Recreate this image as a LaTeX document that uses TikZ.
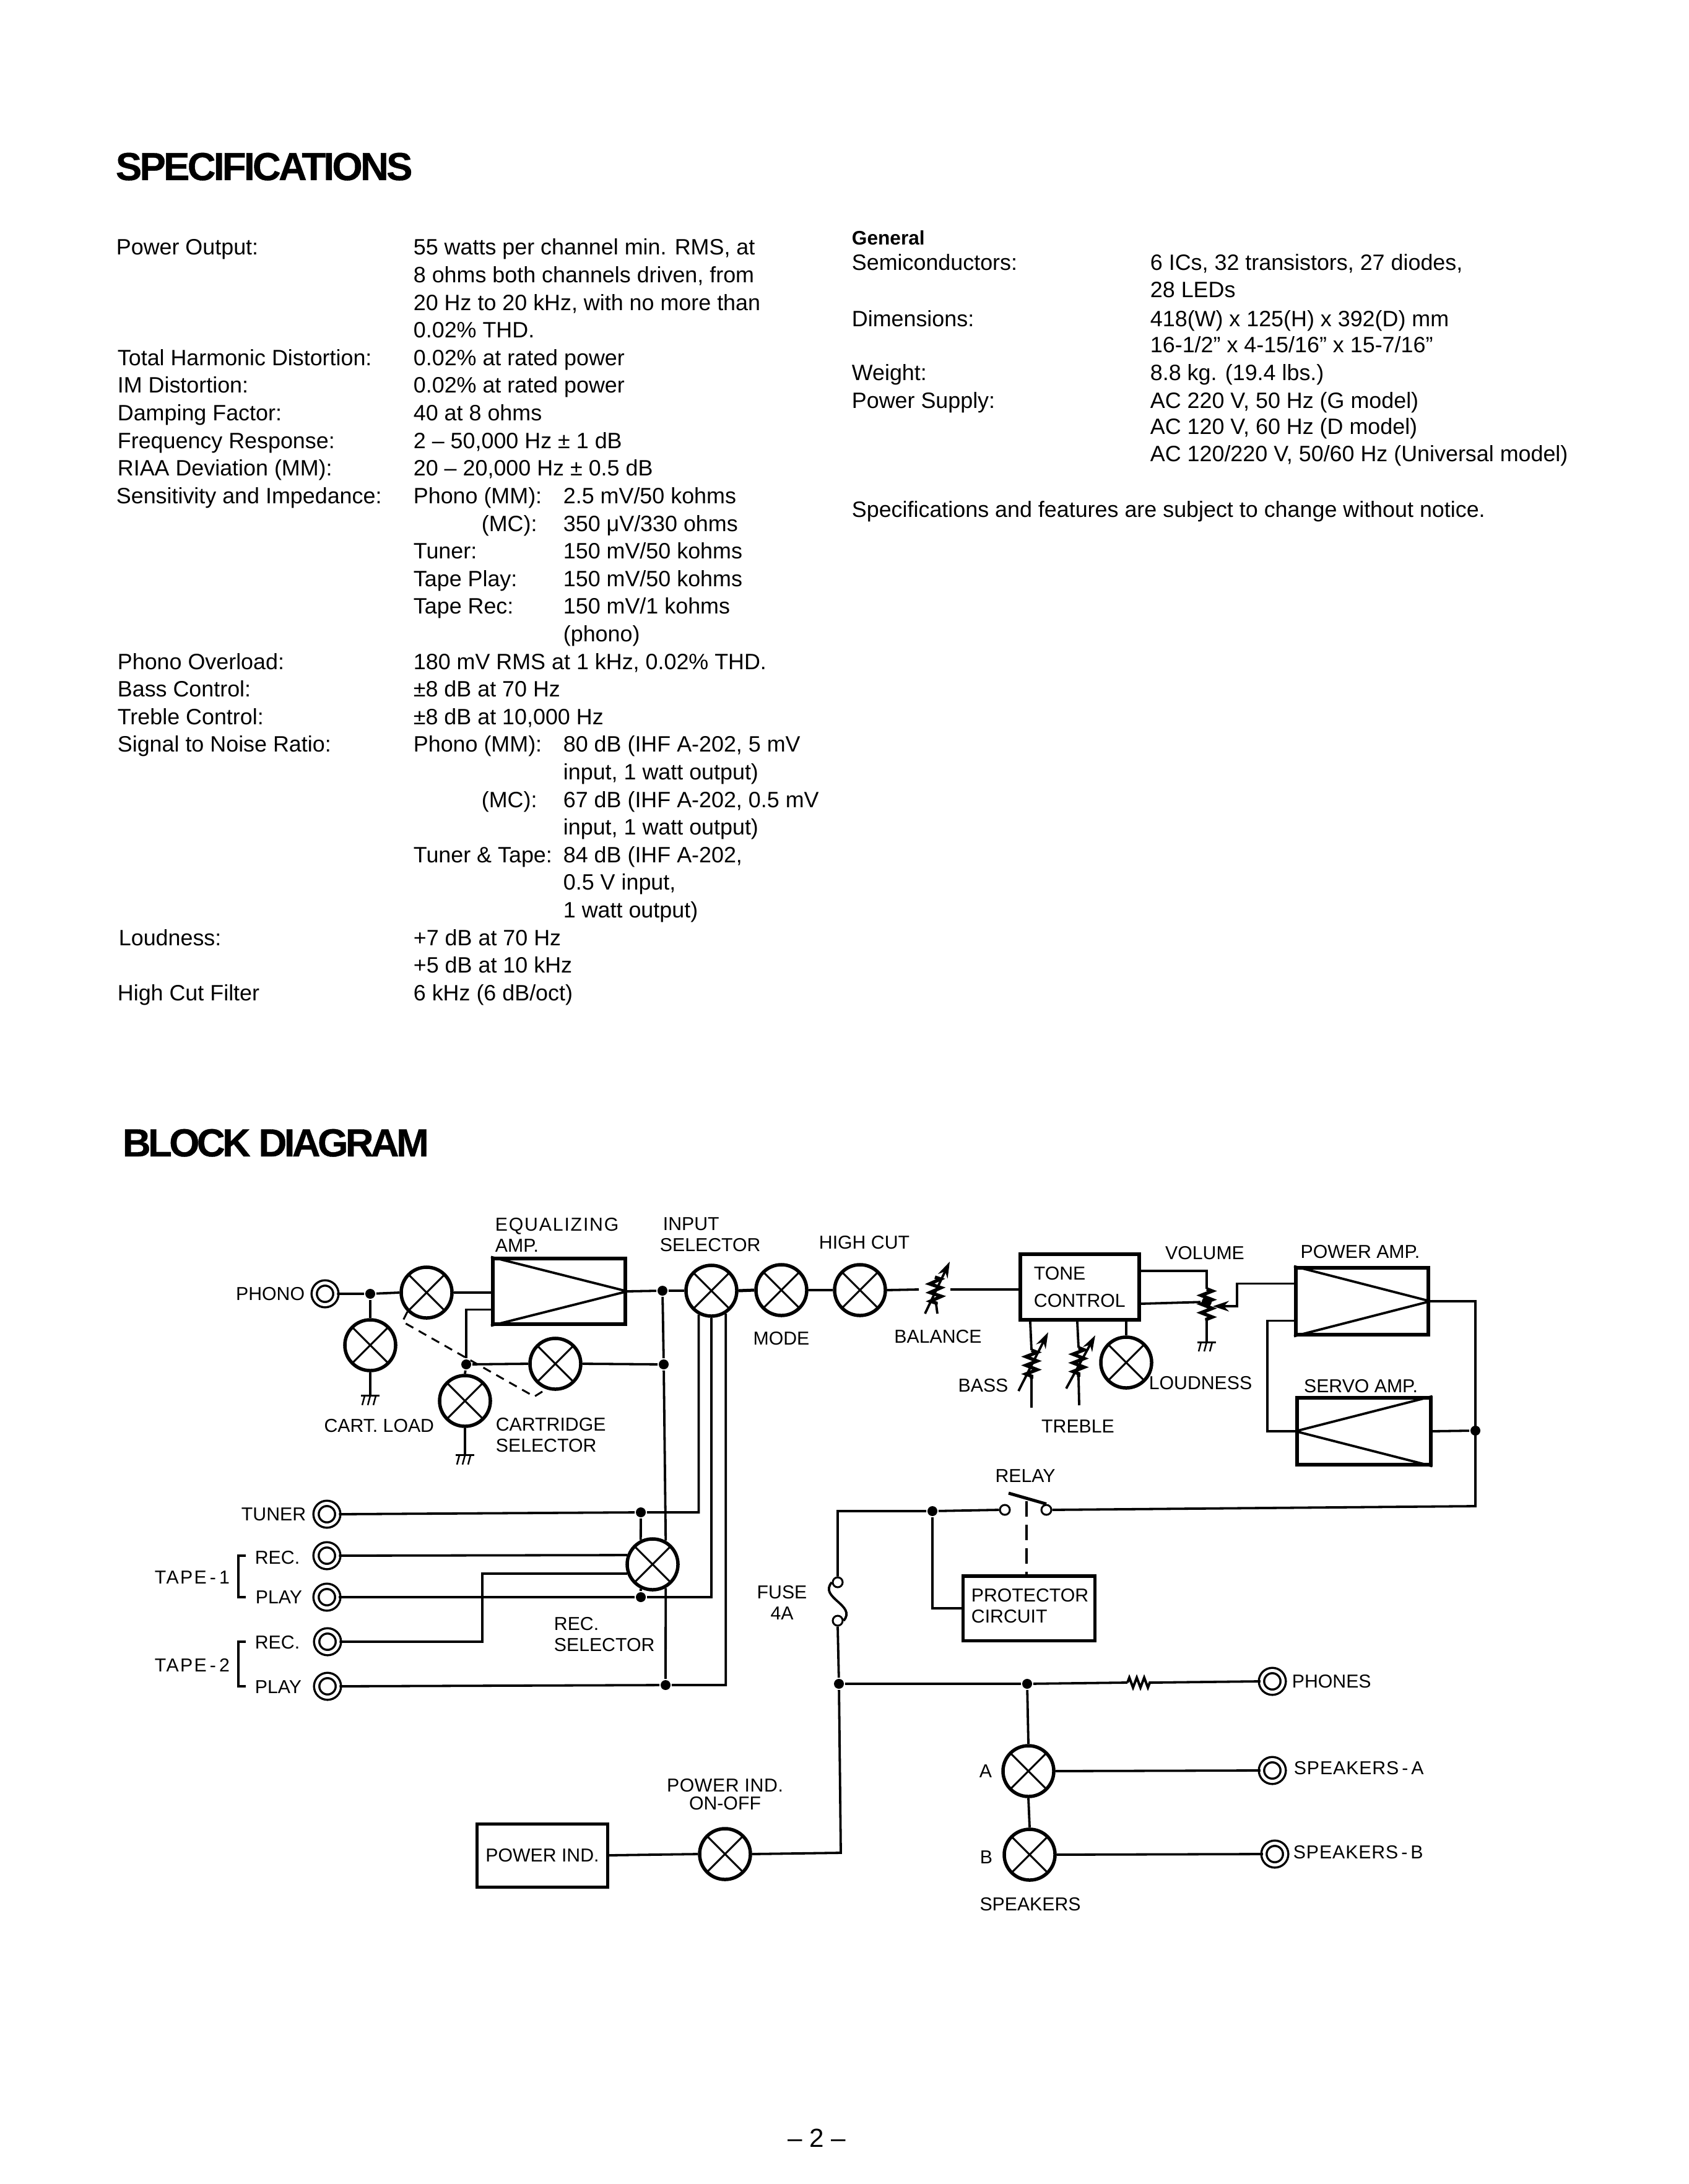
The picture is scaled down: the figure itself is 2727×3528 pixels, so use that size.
\documentclass[tikz,border=0pt]{standalone}
\usepackage{fontspec}
\setmainfont{Liberation Sans}
\usetikzlibrary{shapes,arrows,arrows.meta,calc,decorations.pathmorphing}

\begin{document}
\begin{tikzpicture}[>=stealth, x=.01cm, y=-.01cm, line width=.038cm,
  head/.style={anchor=base west, inner sep=0, font=\fontsize{18}{20}\selectfont\bfseries},
  spectext/.style={anchor=base west, inner sep=0, font=\fontsize{10.2}{12}\selectfont},
  lbl/.style={inner sep=0, align=left, font=\fontsize{8.6}{9.7}\selectfont},
  box/.style={draw, line width=.06cm, inner sep=0},
  selector/.style={draw, circle, fill=white, line width=.055cm, inner sep=0, minimum size=.82cm,
    path picture={\draw[line width=.03cm] (path picture bounding box.north west) -- (path picture bounding box.south east) (path picture bounding box.north east) -- (path picture bounding box.south west);}},
  jack/.style={draw, circle, fill=white, double, double distance=.05cm, line width=.035cm, inner sep=0, minimum size=.35cm},
  term/.style={draw, circle, fill=white, line width=.03cm, inner sep=0, minimum size=.16cm},
  jdot/.style={circle, fill, inner sep=0, minimum size=.16cm},
  zz/.style={decorate, decoration={zigzag, segment length=.14cm, amplitude=.09cm}, line width=.055cm},
  vrtip/.style={-{Stealth[length=.26cm,width=.17cm]}},
  gnd/.pic={\draw[line width=.03cm] (-15,0) -- (15,0); \foreach \x in {-9,0,9} \draw[line width=.025cm] (\x,0) -- (\x-4,15);}]
  \useasboundingbox (0,0) rectangle (2727,3528);

  % Page text
  \node[head](SpecHead) at (185,291) {\addfontfeature{LetterSpace=-5.7,FakeBold=.6}SPECIFICATIONS};
  \node[head](BlockHead) at (196,1868) {\addfontfeature{LetterSpace=-7.2,FakeBold=.6}BLOCK DIAGRAM};
  \foreach \x/\row/\txt in {
    186/0/{Power Output:}, 666/0/{55 watts per channel min. RMS, at},
    666/1/{8 ohms both channels driven, from},
    666/2/{20 Hz to 20 kHz, with no more than},
    666/3/{0.02\% THD.},
    188/4/{Total Harmonic Distortion:}, 666/4/{0.02\% at rated power},
    188/5/{IM Distortion:}, 666/5/{0.02\% at rated power},
    188/6/{Damping Factor:}, 666/6/{40 at 8 ohms},
    188/7/{Frequency Response:}, 666/7/{2 -- 50,000 Hz ± 1 dB},
    188/8/{RIAA Deviation (MM):}, 666/8/{20 -- 20,000 Hz ± 0.5 dB},
    186/9/{Sensitivity and Impedance:}, 666/9/{Phono (MM):}, 908/9/{2.5 mV/50 kohms},
    776/10/{(MC):}, 908/10/{350 μV/330 ohms},
    666/11/{Tuner:}, 908/11/{150 mV/50 kohms},
    666/12/{Tape Play:}, 908/12/{150 mV/50 kohms},
    666/13/{Tape Rec:}, 908/13/{150 mV/1 kohms},
    908/14/{(phono)},
    188/15/{Phono Overload:}, 666/15/{180 mV RMS at 1 kHz, 0.02\% THD.},
    188/16/{Bass Control:}, 666/16/{±8 dB at 70 Hz},
    188/17/{Treble Control:}, 666/17/{±8 dB at 10,000 Hz},
    188/18/{Signal to Noise Ratio:}, 666/18/{Phono (MM):}, 908/18/{80 dB (IHF A-202, 5 mV},
    908/19/{input, 1 watt output)},
    776/20/{(MC):}, 908/20/{67 dB (IHF A-202, 0.5 mV},
    908/21/{input, 1 watt output)},
    666/22/{Tuner \& Tape:}, 908/22/{84 dB (IHF A-202,},
    908/23/{0.5 V input,},
    908/24/{1 watt output)},
    190/25/{Loudness:}, 666/25/{+7 dB at 70 Hz},
    666/26/{+5 dB at 10 kHz},
    188/27/{High Cut Filter}, 666/27/{6 kHz (6 dB/oct)}}
    \node[spectext](Spec\x-\row) at (\x,{412+44.6*\row}) {\txt};
  \node[spectext, font=\fontsize{9}{12}\selectfont\bfseries](General) at (1374,396) {General};
  \foreach \x/\y/\txt in {
    1374/437/{Semiconductors:}, 1856/437/{6 ICs, 32 transistors, 27 diodes,},
    1856/481/{28 LEDs},
    1374/528/{Dimensions:}, 1856/528/{418(W) x 125(H) x 392(D) mm},
    1856/570/{16-1/2" x 4-15/16" x 15-7/16"},
    1374/615/{Weight:}, 1856/615/{8.8 kg. (19.4 lbs.)},
    1374/660/{Power Supply:}, 1856/660/{AC 220 V, 50 Hz (G model)},
    1856/702/{AC 120 V, 60 Hz (D model)},
    1856/745/{AC 120/220 V, 50/60 Hz (Universal model)},
    1374/836/{Specifications and features are subject to change without notice.}}
    \node[spectext](Gen\x-\y) at (\x,\y) {\txt};
  \node[anchor=center, inner sep=0, font=\fontsize{12}{14}\selectfont](PageNo) at (1319,3454) {-- 2 --};

  % Nodes
  \node[jack](Phono) at (525,2090) {};
  \node[jack](Tuner) at (528,2446) {};
  \node[jack](TapeOneRec) at (528,2513) {};
  \node[jack](TapeOnePlay) at (528,2580) {};
  \node[jack](TapeTwoRec) at (529,2652) {};
  \node[jack](TapeTwoPlay) at (529,2724) {};
  \node[jack](Phones) at (2055,2716) {};
  \node[jack](SpkAJack) at (2055,2860) {};
  \node[jack](SpkBJack) at (2059,2995) {};

  \node[selector](PhonoSw) at (689,2088) {};
  \node[selector](CartLoad) at (598,2173) {};
  \node[selector](CartSel) at (751,2263) {};
  \node[selector](CartFb) at (897,2203) {};
  \node[selector](InSel) at (1149,2085) {};
  \node[selector](Mode) at (1262,2084) {};
  \node[selector](HighCut) at (1389,2084) {};
  \node[selector](Loudness) at (1819,2201) {};
  \node[selector](RecSel) at (1054,2527) {};
  \node[selector](SpkA) at (1661,2861) {};
  \node[selector](SpkB) at (1663,2996) {};
  \node[selector](PowerSw) at (1171,2995) {};

  \node[box, minimum width=2.14cm, minimum height=1.05cm](EqAmp) at (903,2086) {};
  \node[box, minimum width=1.92cm, minimum height=1.06cm](Tone) at (1744,2079) {};
  \node[box, minimum width=2.14cm, minimum height=1.07cm](PowerAmp) at (2200,2102) {};
  \node[box, minimum width=2.15cm, minimum height=1.07cm](ServoAmp) at (2203,2312) {};
  \node[box, line width=.05cm, minimum width=2.12cm, minimum height=1.04cm](Protector) at (1662,2598) {};
  \node[box, line width=.05cm, minimum width=2.11cm, minimum height=1.02cm](PowerBox) at (876,2997) {};

  \node[jdot](PhonoDot) at (598,2090) {};
  \node[jdot](CartDot) at (753,2204) {};
  \node[jdot](EqDot) at (1070,2085) {};
  \node[jdot](FbDot) at (1072,2204) {};
  \node[jdot](TunerDot) at (1035,2443) {};
  \node[jdot](PlayDot) at (1035,2580) {};
  \node[jdot](TapeDot) at (1075,2722) {};
  \node[jdot](VolDot) at (1949,2103) {};
  \node[jdot](ServoDot) at (2383,2311) {};
  \node[jdot](RelayDot) at (1506,2441) {};
  \node[jdot](MainDot) at (1355,2720) {};
  \node[jdot](SpkDot) at (1659,2720) {};

  \node[term](RelayA) at (1623,2439) {};
  \node[term](RelayB) at (1690,2439) {};
  \node[term](FuseA) at (1353,2556) {};
  \node[term](FuseB) at (1353,2618) {};

  \coordinate (BalL) at (1484,2083);
  \coordinate (BalR) at (1535,2083);
  \coordinate (BalT) at (1510,2063);
  \coordinate (BalB) at (1512,2107);
  \coordinate (BassT) at (1666,2181);
  \coordinate (BassB) at (1666,2227);
  \coordinate (TrebT) at (1742,2177);
  \coordinate (TrebB) at (1742,2224);
  \coordinate (VolT) at (1949,2082);
  \coordinate (VolB) at (1949,2133);
  \coordinate (VolGnd) at (1949,2168);
  \coordinate (VolWire) at (1998,2110);
  \coordinate (RelayEnd) at (2383,2433);
  \coordinate (FbCorner) at (2047,2312);
  \coordinate (MainTop) at (1353,2441);
  \coordinate (MainEnd) at (1358,2993);
  \coordinate (BladeTip) at (1629,2412);
  \coordinate (BladeMid) at (1658,2425);
  \coordinate (ResL) at (1821,2718);
  \coordinate (ResR) at (1862,2718);
  \coordinate (TapeCorner) at (779,2542);

  % Labels
  \node[lbl, anchor=east](PhonoLbl) at (494,2090) {PHONO};
  \node[lbl, anchor=east](TunerLbl) at (496,2446) {TUNER};
  \node[lbl, anchor=west](TapeOneRecLbl) at (410,2516) {REC.};
  \node[lbl, anchor=west](TapeOnePlayLbl) at (411,2580) {PLAY};
  \node[lbl, anchor=west](TapeTwoRecLbl) at (410,2653) {REC.};
  \node[lbl, anchor=west](TapeTwoPlayLbl) at (410,2725) {PLAY};
  \node[lbl, anchor=west](TapeOneLbl) at (248,2548) {\addfontfeature{LetterSpace=8}TAPE\,-\,1};
  \node[lbl, anchor=west](TapeTwoLbl) at (248,2690) {\addfontfeature{LetterSpace=8}TAPE\,-\,2};
  \node[lbl, anchor=west](EqLbl) at (798,1995) {\addfontfeature{LetterSpace=6}EQUALIZING\\AMP.};
  \node[lbl, anchor=west](InSelLbl) at (1064,1994) {\hspace{.05cm}INPUT\\SELECTOR};
  \node[lbl](HighCutLbl) at (1396,2007) {HIGH CUT};
  \node[lbl](ModeLbl) at (1262,2162) {MODE};
  \node[lbl](BalanceLbl) at (1515,2159) {BALANCE};
  \node[lbl](BassLbl) at (1588,2238) {BASS};
  \node[lbl](TrebleLbl) at (1741,2304) {TREBLE};
  \node[lbl](LoudnessLbl) at (1939,2234) {LOUDNESS};
  \node[lbl](VolumeLbl) at (1946,2024) {VOLUME};
  \node[lbl](PowerAmpLbl) at (2197,2022) {POWER AMP.};
  \node[lbl](ServoAmpLbl) at (2198,2239) {SERVO AMP.};
  \node[lbl, anchor=west](ToneLbl) at (1668,2079) {TONE\\[.1cm]CONTROL};
  \node[lbl, anchor=east](CartLoadLbl) at (703,2303) {CART. LOAD};
  \node[lbl, anchor=west](CartSelLbl) at (799,2318) {CARTRIDGE\\SELECTOR};
  \node[lbl, anchor=west](RecSelLbl) at (893,2640) {REC.\\SELECTOR};
  \node[lbl](RelayLbl) at (1656,2384) {RELAY};
  \node[lbl, align=center](FuseLbl) at (1263,2589) {FUSE\\4A};
  \node[lbl, anchor=west](ProtectorLbl) at (1567,2594) {PROTECTOR\\CIRCUIT};
  \node[lbl](PowerBoxLbl) at (PowerBox) {POWER IND.};
  \node[lbl, align=center](PowerSwLbl) at (1171,2899) {\addfontfeature{LetterSpace=2}POWER IND.\\[-.05cm]ON-OFF};
  \node[lbl, anchor=west](PhonesLbl) at (2085,2716) {PHONES};
  \node[lbl, anchor=west](SpkALbl) at (2088,2856) {\addfontfeature{LetterSpace=3}SPEAKERS\,-\,A};
  \node[lbl, anchor=west](SpkBLbl) at (2087,2992) {\addfontfeature{LetterSpace=3}SPEAKERS\,-\,B};
  \node[lbl](ALbl) at (1592,2861) {A};
  \node[lbl](BLbl) at (1593,3000) {B};
  \node[lbl](SpeakersLbl) at (1664,3076) {SPEAKERS};

  % Amplifier triangles
  \foreach \amp in {EqAmp,PowerAmp}
    \draw (\amp.north west) -- (\amp.east) -- (\amp.south west);
  \draw (ServoAmp.north east) -- (ServoAmp.west) -- (ServoAmp.south east);

  % Edges
  \draw (Phono.east) -- (PhonoDot) -- (PhonoSw.west);
  \draw (PhonoDot) -- (CartLoad.north);
  \draw (CartLoad.south) -- ++(0,38) pic {gnd};
  \draw (PhonoSw.east) -- (PhonoSw.east -| EqAmp.west);
  \draw (CartDot) |- ($(EqAmp.north west)+(0,85)$);
  \draw (CartDot) -- (CartSel.north);
  \draw (CartSel.south) -- ++(0,44) pic {gnd};
  \draw (CartDot) -- (CartFb.west);
  \draw (CartFb.east) -- (FbDot);
  \draw (EqAmp.east) -- (EqDot) -- (InSel.west);
  \draw (EqDot) -- (FbDot) -- (RecSel.61);
  \draw (RecSel.-61) -- (TapeDot);
  \draw[line width=.05cm] (InSel.east) -- (Mode.west);
  \draw (Mode.east) -- (HighCut.west);
  \draw (HighCut.east) -- (BalL);
  \draw (BalR) -- (BalR -| Tone.west);

  \draw (Tuner.east) -- (TunerDot) -| (InSel.242);
  \draw (TunerDot) -- (RecSel.116);
  \draw (TapeOneRec.east) -- (RecSel.160);
  \draw (TapeTwoRec.east) -| (TapeCorner) -- (RecSel.200);
  \draw (TapeOnePlay.east) -- (PlayDot) -| (InSel.270);
  \draw (PlayDot) -- (RecSel.244);
  \draw (TapeTwoPlay.east) -- (TapeDot) -| (InSel.302);
  \draw ($(TapeOneRecLbl.west)+(-13,-3)$) -- ++(-12,0) |- ($(TapeOnePlayLbl.west)+(-14,0)$);
  \draw ($(TapeTwoRecLbl.west)+(-13,-1)$) -- ++(-12,0) |- ($(TapeTwoPlayLbl.west)+(-13,-1)$);

  % Variable resistors
  \draw[zz] (BalT) -- (BalB);
  \draw (BalB) -- ++(2,15);
  \draw[vrtip] (1494,2122) -- (1534,2038);
  \draw ($(Tone.south west)+(19,0)$) -- (BassT);
  \draw[zz] (BassT) -- (BassB);
  \draw (BassB) -- ++(0,47);
  \draw[vrtip] (1645,2247) -- (1693,2152);
  \draw ($(Tone.south west)+(95,0)$) -- (TrebT);
  \draw[zz] (TrebT) -- (TrebB);
  \draw (TrebB) -- ++(1,46);
  \draw[vrtip] (1722,2243) -- (1769,2157);
  \draw (Loudness.north) -- (Loudness.north |- Tone.south);
  \draw ($(Tone.north east)+(0,30)$) -| (VolT);
  \draw[zz] (VolT) -- (VolB);
  \draw ($(Tone.south east)+(0,-29)$) -- (VolDot);
  \draw (VolB) -- (VolGnd) pic {gnd};
  \draw[vrtip] ($(PowerAmp.north west)+(0,28)$) -| (VolWire) -- (VolDot.east |- VolWire);

  \draw ($(PowerAmp.south west)+(0,-25)$) -| (FbCorner) -- (ServoAmp.west);
  \draw (PowerAmp.east) -| (RelayEnd) -- (RelayB.east);
  \draw (ServoAmp.east) -- (ServoDot);

  \draw[line width=.05cm] (RelayB.north) -- (BladeTip);
  \draw[dash pattern=on .25cm off .13cm] (BladeMid) -- (BladeMid |- Protector.north);
  \draw (RelayA.west) -- (RelayDot) -- (MainTop) -- (FuseA.north);
  \draw (RelayDot) |- (Protector.west);
  \draw (FuseA.west) .. controls +(-22,25) and +(22,-25) .. (FuseB.east);
  \draw (FuseB.south) -- (MainDot) -- (MainEnd) -- (PowerSw.east);
  \draw (PowerBox.east) -- (PowerSw.west);
  \draw (MainDot) -- (SpkDot) -- (ResL);
  \draw[zz, line width=.04cm, decoration={segment length=.12cm, amplitude=.08cm}] (ResL) -- (ResR);
  \draw (ResR) -- (Phones.west);
  \draw (SpkDot) -- (SpkA.north);
  \draw (SpkA.south) -- (SpkB.north);
  \draw (SpkA.east) -- (SpkAJack.west);
  \draw (SpkB.east) -- (SpkBJack.west);

  % Ganged switches
  \draw[line width=.03cm, dash pattern=on .14cm off .1cm] (PhonoSw.225) -- ++(-8,16) -- (863,2256) -- (CartFb.250);
\end{tikzpicture}
\end{document}
